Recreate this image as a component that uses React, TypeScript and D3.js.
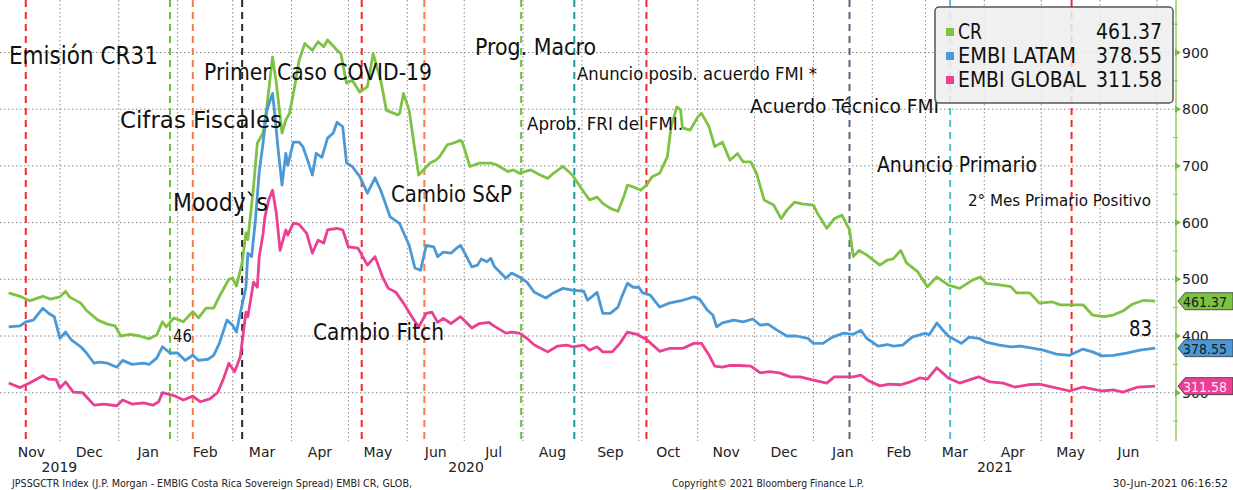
import React from 'react';
import * as d3 from 'd3';

// spreads (bps)
const crData: [string, number][] = [
  ['2019-11-04', 476], ['2019-11-10', 470], ['2019-11-15', 462], ['2019-11-22', 470], ['2019-11-26', 465],
  ['2019-12-01', 469], ['2019-12-04', 479], ['2019-12-06', 469], ['2019-12-12', 458], ['2019-12-15', 445],
  ['2019-12-21', 428], ['2019-12-26', 421], ['2019-12-30', 418], ['2020-01-02', 400], ['2020-01-07', 403],
  ['2020-01-12', 400], ['2020-01-17', 395], ['2020-01-21', 402], ['2020-01-24', 425], ['2020-01-26', 416],
  ['2020-01-30', 432], ['2020-02-04', 425], ['2020-02-09', 443], ['2020-02-12', 432], ['2020-02-16', 449],
  ['2020-02-20', 449], ['2020-02-23', 470], ['2020-02-28', 500], ['2020-03-01', 502], ['2020-03-03', 488],
  ['2020-03-06', 529], ['2020-03-08', 582], ['2020-03-09', 570], ['2020-03-12', 663], ['2020-03-14', 740],
  ['2020-03-17', 758], ['2020-03-19', 804], ['2020-03-22', 892], ['2020-03-24', 846], ['2020-03-27', 758],
  ['2020-03-29', 781], ['2020-03-31', 793], ['2020-04-03', 846], ['2020-04-05', 886], ['2020-04-08', 916],
  ['2020-04-12', 904], ['2020-04-15', 919], ['2020-04-18', 910], ['2020-04-20', 922], ['2020-04-25', 904],
  ['2020-04-27', 898], ['2020-04-30', 846], ['2020-05-03', 851], ['2020-05-07', 830], ['2020-05-11', 840],
  ['2020-05-14', 898], ['2020-05-18', 851], ['2020-05-21', 798], ['2020-05-27', 790], ['2020-05-28', 793],
  ['2020-05-30', 828], ['2020-06-02', 798], ['2020-06-05', 728], ['2020-06-07', 684], ['2020-06-13', 705],
  ['2020-06-16', 710], ['2020-06-18', 716], ['2020-06-22', 737], ['2020-06-25', 740], ['2020-06-29', 745],
  ['2020-06-30', 742], ['2020-07-04', 699], ['2020-07-09', 705], ['2020-07-15', 705], ['2020-07-18', 702],
  ['2020-07-24', 690], ['2020-07-27', 693], ['2020-07-30', 687], ['2020-08-05', 693], ['2020-08-10', 684],
  ['2020-08-14', 678], ['2020-08-17', 687], ['2020-08-22', 699], ['2020-08-27', 684], ['2020-09-02', 654],
  ['2020-09-05', 640], ['2020-09-09', 645], ['2020-09-12', 634], ['2020-09-16', 625], ['2020-09-20', 620],
  ['2020-09-23', 645], ['2020-09-25', 666], ['2020-09-28', 663], ['2020-10-02', 657], ['2020-10-05', 666],
  ['2020-10-08', 681], ['2020-10-12', 687], ['2020-10-16', 716], ['2020-10-18', 769], ['2020-10-21', 804],
  ['2020-10-23', 799], ['2020-10-24', 767], ['2020-10-28', 763], ['2020-11-01', 786], ['2020-11-03', 793],
  ['2020-11-07', 769], ['2020-11-10', 734], ['2020-11-14', 742], ['2020-11-18', 710], ['2020-11-22', 722],
  ['2020-11-25', 707], ['2020-11-29', 707], ['2020-12-02', 687], ['2020-12-06', 640], ['2020-12-11', 631],
  ['2020-12-15', 607], ['2020-12-18', 622], ['2020-12-22', 636], ['2020-12-26', 633], ['2021-01-01', 631],
  ['2021-01-03', 617], ['2021-01-08', 590], ['2021-01-12', 607], ['2021-01-16', 613], ['2021-01-20', 587],
  ['2021-01-22', 540], ['2021-01-25', 551], ['2021-01-29', 543], ['2021-02-05', 525], ['2021-02-09', 534],
  ['2021-02-12', 536], ['2021-02-16', 551], ['2021-02-19', 529], ['2021-02-25', 513], ['2021-03-02', 487],
  ['2021-03-07', 504], ['2021-03-13', 490], ['2021-03-19', 484], ['2021-03-26', 499], ['2021-03-30', 504],
  ['2021-04-02', 493], ['2021-04-09', 490], ['2021-04-15', 487], ['2021-04-18', 476], ['2021-04-25', 476],
  ['2021-04-30', 458], ['2021-05-07', 460], ['2021-05-11', 455], ['2021-05-18', 455], ['2021-05-23', 455],
  ['2021-05-28', 437], ['2021-06-03', 434], ['2021-06-08', 437], ['2021-06-13', 444], ['2021-06-18', 456],
  ['2021-06-24', 463], ['2021-06-30', 461.37],
];

const latamData: [string, number][] = [
  ['2019-11-04', 416], ['2019-11-10', 418], ['2019-11-13', 425], ['2019-11-17', 428], ['2019-11-22', 449],
  ['2019-11-25', 440], ['2019-11-28', 434], ['2019-12-01', 396], ['2019-12-04', 407], ['2019-12-07', 393],
  ['2019-12-12', 381], ['2019-12-15', 370], ['2019-12-19', 352], ['2019-12-22', 354], ['2019-12-26', 352],
  ['2019-12-31', 345], ['2020-01-03', 357], ['2020-01-08', 350], ['2020-01-14', 352], ['2020-01-17', 350],
  ['2020-01-21', 361], ['2020-01-24', 381], ['2020-01-28', 370], ['2020-02-01', 370], ['2020-02-05', 357],
  ['2020-02-09', 366], ['2020-02-12', 357], ['2020-02-17', 359], ['2020-02-20', 366], ['2020-02-23', 387],
  ['2020-02-27', 428], ['2020-03-01', 419], ['2020-03-03', 407], ['2020-03-05', 440], ['2020-03-08', 486],
  ['2020-03-09', 546], ['2020-03-11', 540], ['2020-03-13', 605], ['2020-03-15', 690], ['2020-03-17', 740],
  ['2020-03-19', 798], ['2020-03-22', 828], ['2020-03-23', 798], ['2020-03-25', 728], ['2020-03-27', 666],
  ['2020-03-29', 722], ['2020-03-30', 701], ['2020-04-02', 742], ['2020-04-05', 742], ['2020-04-07', 734],
  ['2020-04-10', 705], ['2020-04-12', 684], ['2020-04-14', 722], ['2020-04-17', 715], ['2020-04-20', 749],
  ['2020-04-23', 758], ['2020-04-25', 777], ['2020-04-28', 769], ['2020-04-30', 705], ['2020-05-03', 699],
  ['2020-05-07', 681], ['2020-05-11', 652], ['2020-05-15', 679], ['2020-05-18', 657], ['2020-05-23', 610],
  ['2020-05-28', 598], ['2020-06-02', 560], ['2020-06-05', 520], ['2020-06-08', 516], ['2020-06-11', 560],
  ['2020-06-15', 557], ['2020-06-17', 540], ['2020-06-20', 548], ['2020-06-24', 546], ['2020-06-27', 555],
  ['2020-06-29', 560], ['2020-07-01', 548], ['2020-07-05', 522], ['2020-07-08', 525], ['2020-07-10', 536],
  ['2020-07-13', 531], ['2020-07-15', 537], ['2020-07-17', 522], ['2020-07-23', 502], ['2020-07-26', 511],
  ['2020-07-30', 504], ['2020-08-03', 495], ['2020-08-07', 477], ['2020-08-13', 467], ['2020-08-17', 476],
  ['2020-08-22', 484], ['2020-08-27', 481], ['2020-09-02', 479], ['2020-09-04', 463], ['2020-09-09', 477],
  ['2020-09-12', 440], ['2020-09-16', 440], ['2020-09-20', 451], ['2020-09-22', 469], ['2020-09-25', 493],
  ['2020-09-28', 486], ['2020-10-01', 486], ['2020-10-03', 476], ['2020-10-07', 472], ['2020-10-12', 451],
  ['2020-10-17', 458], ['2020-10-24', 463], ['2020-10-30', 469], ['2020-11-02', 465], ['2020-11-06', 446],
  ['2020-11-09', 437], ['2020-11-11', 416], ['2020-11-14', 423], ['2020-11-20', 428], ['2020-11-25', 425],
  ['2020-11-30', 430], ['2020-12-04', 419], ['2020-12-08', 421], ['2020-12-13', 410], ['2020-12-18', 400],
  ['2020-12-23', 400], ['2020-12-29', 396], ['2021-01-01', 387], ['2021-01-06', 387], ['2021-01-11', 398],
  ['2021-01-17', 405], ['2021-01-22', 403], ['2021-01-26', 410], ['2021-01-29', 396], ['2021-02-04', 382],
  ['2021-02-09', 385], ['2021-02-12', 382], ['2021-02-17', 384], ['2021-02-22', 398], ['2021-03-01', 405],
  ['2021-03-03', 402], ['2021-03-07', 423], ['2021-03-10', 411], ['2021-03-13', 400], ['2021-03-20', 387],
  ['2021-03-24', 398], ['2021-03-29', 396], ['2021-04-02', 389], ['2021-04-09', 384], ['2021-04-15', 381],
  ['2021-04-20', 382], ['2021-04-27', 378], ['2021-05-02', 375], ['2021-05-09', 368], ['2021-05-16', 366],
  ['2021-05-23', 377], ['2021-05-28', 372], ['2021-06-02', 365], ['2021-06-08', 366], ['2021-06-15', 370],
  ['2021-06-22', 375], ['2021-06-30', 378.55],
];

const globalData: [string, number][] = [
  ['2019-11-04', 317], ['2019-11-10', 309], ['2019-11-15', 317], ['2019-11-22', 330], ['2019-11-25', 324],
  ['2019-11-29', 323], ['2019-12-01', 308], ['2019-12-04', 319], ['2019-12-08', 301], ['2019-12-13', 300],
  ['2019-12-19', 278], ['2019-12-24', 280], ['2019-12-31', 277], ['2020-01-03', 287], ['2020-01-08', 280],
  ['2020-01-14', 282], ['2020-01-19', 278], ['2020-01-22', 284], ['2020-01-24', 300], ['2020-01-30', 295],
  ['2020-02-04', 287], ['2020-02-09', 294], ['2020-02-13', 284], ['2020-02-18', 289], ['2020-02-22', 300],
  ['2020-02-25', 323], ['2020-02-28', 352], ['2020-03-02', 337], ['2020-03-05', 363], ['2020-03-08', 442],
  ['2020-03-09', 434], ['2020-03-12', 495], ['2020-03-14', 486], ['2020-03-15', 540], ['2020-03-17', 580],
  ['2020-03-18', 610], ['2020-03-20', 640], ['2020-03-22', 657], ['2020-03-24', 617], ['2020-03-26', 551],
  ['2020-03-29', 587], ['2020-03-30', 578], ['2020-04-02', 599], ['2020-04-05', 597], ['2020-04-09', 581],
  ['2020-04-12', 546], ['2020-04-15', 569], ['2020-04-18', 564], ['2020-04-20', 587], ['2020-04-25', 590],
  ['2020-04-28', 587], ['2020-05-01', 557], ['2020-05-06', 555], ['2020-05-08', 543], ['2020-05-11', 525],
  ['2020-05-15', 540], ['2020-05-19', 504], ['2020-05-22', 484], ['2020-05-26', 477], ['2020-05-30', 458],
  ['2020-06-04', 431], ['2020-06-07', 416], ['2020-06-11', 440], ['2020-06-14', 442], ['2020-06-17', 424],
  ['2020-06-20', 431], ['2020-06-24', 422], ['2020-06-29', 434], ['2020-06-30', 431], ['2020-07-05', 414],
  ['2020-07-09', 422], ['2020-07-14', 424], ['2020-07-17', 417], ['2020-07-23', 405], ['2020-07-26', 407],
  ['2020-07-30', 405], ['2020-08-03', 396], ['2020-08-07', 384], ['2020-08-14', 372], ['2020-08-19', 382],
  ['2020-08-24', 384], ['2020-08-27', 381], ['2020-09-02', 384], ['2020-09-05', 375], ['2020-09-09', 381],
  ['2020-09-12', 372], ['2020-09-17', 372], ['2020-09-21', 387], ['2020-09-25', 407], ['2020-09-30', 403],
  ['2020-10-05', 394], ['2020-10-12', 373], ['2020-10-17', 378], ['2020-10-24', 378], ['2020-10-30', 387],
  ['2020-11-03', 387], ['2020-11-07', 366], ['2020-11-10', 347], ['2020-11-14', 345], ['2020-11-18', 348],
  ['2020-11-23', 348], ['2020-11-29', 347], ['2020-12-04', 335], ['2020-12-09', 337], ['2020-12-14', 335],
  ['2020-12-20', 328], ['2020-12-25', 328], ['2021-01-01', 322], ['2021-01-08', 317], ['2021-01-12', 328],
  ['2021-01-17', 328], ['2021-01-22', 328], ['2021-01-26', 331], ['2021-01-30', 321], ['2021-02-05', 312],
  ['2021-02-10', 315], ['2021-02-16', 314], ['2021-02-21', 319], ['2021-02-26', 326], ['2021-03-02', 324],
  ['2021-03-07', 344], ['2021-03-10', 335], ['2021-03-13', 326], ['2021-03-19', 317], ['2021-03-29', 328],
  ['2021-04-04', 319], ['2021-04-11', 317], ['2021-04-17', 310], ['2021-04-24', 314], ['2021-04-30', 315],
  ['2021-05-07', 310], ['2021-05-16', 303], ['2021-05-23', 310], ['2021-06-02', 303], ['2021-06-08', 305],
  ['2021-06-13', 301], ['2021-06-21', 310], ['2021-06-30', 311.58],
];

const seriesNames = ['CR', 'EMBI LATAM', 'EMBI GLOBAL'];
const seriesColors = ['#7dc242', '#4a98d6', '#ea3f93'];
const tagTextColors = ['#1a1a1a', '#1a1a1a', '#ffe6f2'];

// vertical event markers
const events: [string, string][] = [
  ['2019-11-13', '#f02a2a'], ['2020-01-28', '#6cbf3f'], ['2020-02-09', '#f47a4c'], ['2020-03-06', '#2a2a2a'],
  ['2020-05-08', '#f02a2a'], ['2020-06-10', '#f47a4c'], ['2020-07-31', '#6cbf3f'], ['2020-08-28', '#1b9c9a'],
  ['2020-10-05', '#f02a2a'], ['2021-01-20', '#56687a'], ['2021-03-14', '#4cc4d4'], ['2021-05-17', '#f02a2a'],
];

// text, x, baseline, font size, width
const notes: [string, number, number, number, number][] = [
  ['Emisión CR31', 9, 64, 25, 149],
  ['Primer Caso COVID-19', 204, 80, 23, 228],
  ['Cifras Fiscales', 120, 128, 23, 162],
  ['Moody`s', 173, 211, 24, 95],
  ['46', 173, 342, 17, 19],
  ['Cambio Fitch', 313, 340, 23, 131],
  ['Cambio S&P', 391, 202, 23, 121],
  ['Prog. Macro', 475, 55, 23, 121],
  ['Anuncio posib. acuerdo FMI *', 577, 80, 18, 240],
  ['Aprob. FRI del FMI.', 527, 130, 18, 156],
  ['Acuerdo Técnico FMI', 750, 113, 20, 189],
  ['Anuncio Primario', 877, 172, 21, 160],
  ['2° Mes Primario Positivo', 968, 206, 16, 183],
  ['83', 1129, 336, 22, 23],
];

const yTicks = [300, 400, 500, 600, 700, 800, 900];
const yMinorTicks = [250, 350, 450, 550, 650, 750, 850, 950];
const monthLabels = ['Nov', 'Dec', 'Jan', 'Feb', 'Mar', 'Apr', 'May', 'Jun', 'Jul', 'Aug', 'Sep', 'Oct',
  'Nov', 'Dec', 'Jan', 'Feb', 'Mar', 'Apr', 'May', 'Jun'];
const yearLabels = ['2019', '2020', '2021'];

const font = "'DejaVu Sans', Verdana, sans-serif";
const parse = d3.timeParse('%Y-%m-%d');

const App = () => {
  const width = 1233;
  const height = 490;
  const plotRight = 1176;
  const plotBottom = 441;

  const x = d3.scaleTime()
    .domain([new Date(2019, 10, 1), new Date(2021, 6, 1)])
    .range([3, 1157]);
  const y = d3.scaleLinear()
    .domain([300, 900])
    .range([392.7, 52.5]);

  const series = [crData, latamData, globalData].map((s) =>
    s.map(([d, v]) => [parse(d) as Date, v] as [Date, number]));
  const line = d3.line<[Date, number]>()
    .x((d) => x(d[0]))
    .y((d) => y(d[1]));

  const months = d3.timeMonth.range(new Date(2019, 10, 1), new Date(2021, 6, 1));
  const gridMonths = d3.timeMonth.range(new Date(2019, 11, 1), new Date(2021, 6, 2));
  const years = [
    [0, x(new Date(2020, 0, 1))],
    [x(new Date(2020, 0, 1)), x(new Date(2021, 0, 1))],
    [x(new Date(2021, 0, 1)), plotRight],
  ];
  const fmt = d3.format('.2f');

  return (
    <svg width={width} height={height} style={{ position: 'absolute', left: 0, top: 0, background: '#fff' }}
      fontFamily={font}>
      <rect width={width} height={height} fill='#fff' />

      {/* grid */}
      {yTicks.map((t) => (
        <line key={'h' + t} x1={0} x2={plotRight} y1={y(t)} y2={y(t)}
          stroke='#8a8a8a' strokeWidth={1} strokeDasharray='1.5,2.5' />
      ))}
      {gridMonths.map((m) => (
        <line key={'v' + m.getTime()} x1={x(m)} x2={x(m)} y1={0} y2={plotBottom}
          stroke='#8a8a8a' strokeWidth={1} strokeDasharray='1.5,2.5' />
      ))}

      {/* events */}
      {events.map(([d, c]) => {
        const xp = x(parse(d) as Date);
        return <line key={'e' + d} x1={xp} x2={xp} y1={0} y2={plotBottom}
          stroke={c} strokeWidth={2} strokeDasharray='7,5' />;
      })}

      {/* series */}
      {series.map((s, i) => (
        <path key={seriesNames[i]} d={line(s) || ''} fill='none' stroke={seriesColors[i]}
          strokeWidth={2.8} strokeLinejoin='round' />
      ))}

      {/* annotations */}
      {notes.map(([t, nx, ny, size, w]) => (
        <text key={t} x={nx} y={ny} fontSize={size} fill='#111' textLength={w}
          lengthAdjust='spacingAndGlyphs'>{t}</text>
      ))}

      {/* right axis */}
      <line x1={plotRight} x2={plotRight} y1={0} y2={plotBottom} stroke='#9acd5a' strokeWidth={1.5} />
      {yMinorTicks.map((t) => (
        <line key={'m' + t} x1={plotRight - 3} x2={plotRight + 2} y1={y(t)} y2={y(t)}
          stroke='#8cc63f' strokeWidth={1} />
      ))}
      {yTicks.map((t) => (
        <g key={'t' + t}>
          <path d={`M${plotRight - 1},${y(t) - 3.5}L${plotRight + 5},${y(t)}L${plotRight - 1},${y(t) + 3.5}Z`}
            fill='#6cbf3f' />
          <text x={plotRight + 6} y={y(t) + 5} fontSize={14} fill='#222'>{t}</text>
        </g>
      ))}

      {/* last value tags */}
      {series.map((s, i) => {
        const v = s[s.length - 1][1];
        const yy = y(v);
        const x0 = plotRight + 2;
        return (
          <g key={'tag' + i}>
            <path d={`M${x0},${yy}L${x0 + 7},${yy - 8.5}L${width},${yy - 8.5}L${width},${yy + 8.5}L${x0 + 7},${yy + 8.5}Z`}
              fill={seriesColors[i]} stroke='#333' strokeWidth={0.8} />
            <text x={x0 + 5} y={yy + 5.5} fontSize={14.5} fill={tagTextColors[i]} textLength={44}
              lengthAdjust='spacingAndGlyphs'>{fmt(v)}</text>
          </g>
        );
      })}

      {/* legend */}
      <rect x={935} y={7} width={238} height={96} rx={4} fill='#eeeeee' fillOpacity={0.86}
        stroke='#555' strokeWidth={1.5} />
      {series.map((s, i) => {
        const ly = 39 + i * 24;
        const nameW = [24, 118, 128][i];
        return (
          <g key={'lg' + i}>
            <rect x={946} y={ly - 11} width={8} height={8} fill={seriesColors[i]} />
            <text x={958} y={ly} fontSize={22} fill='#111' textLength={nameW}
              lengthAdjust='spacingAndGlyphs'>{seriesNames[i]}</text>
            <text x={1096} y={ly} fontSize={22} fill='#111' textLength={66}
              lengthAdjust='spacingAndGlyphs'>{fmt(s[s.length - 1][1])}</text>
          </g>
        );
      })}

      {/* x axis labels */}
      {months.map((m, i) => {
        const mid = (x(m) + x(d3.timeMonth.offset(m, 1))) / 2;
        return <text key={'ml' + i} x={mid} y={457} fontSize={14} fill='#222'
          textAnchor='middle'>{monthLabels[i]}</text>;
      })}
      {years.map(([a, b], i) => (
        <text key={yearLabels[i]} x={(a + b) / 2} y={472} fontSize={14} fill='#222'
          textAnchor='middle'>{yearLabels[i]}</text>
      ))}

      {/* footer */}
      <text x={12} y={487} fontSize={10.5} fill='#222' textLength={400} lengthAdjust='spacingAndGlyphs'>
        JPSSGCTR Index (J.P. Morgan - EMBIG Costa Rica Sovereign Spread) EMBI CR, GLOB,
      </text>
      <text x={672} y={487} fontSize={10.5} fill='#222' textLength={192} lengthAdjust='spacingAndGlyphs'>
        Copyright© 2021 Bloomberg Finance L.P.
      </text>
      <text x={1228} y={487} fontSize={10.5} fill='#222' textAnchor='end'>30-Jun-2021 06:16:52</text>
    </svg>
  );
};

export default App;
